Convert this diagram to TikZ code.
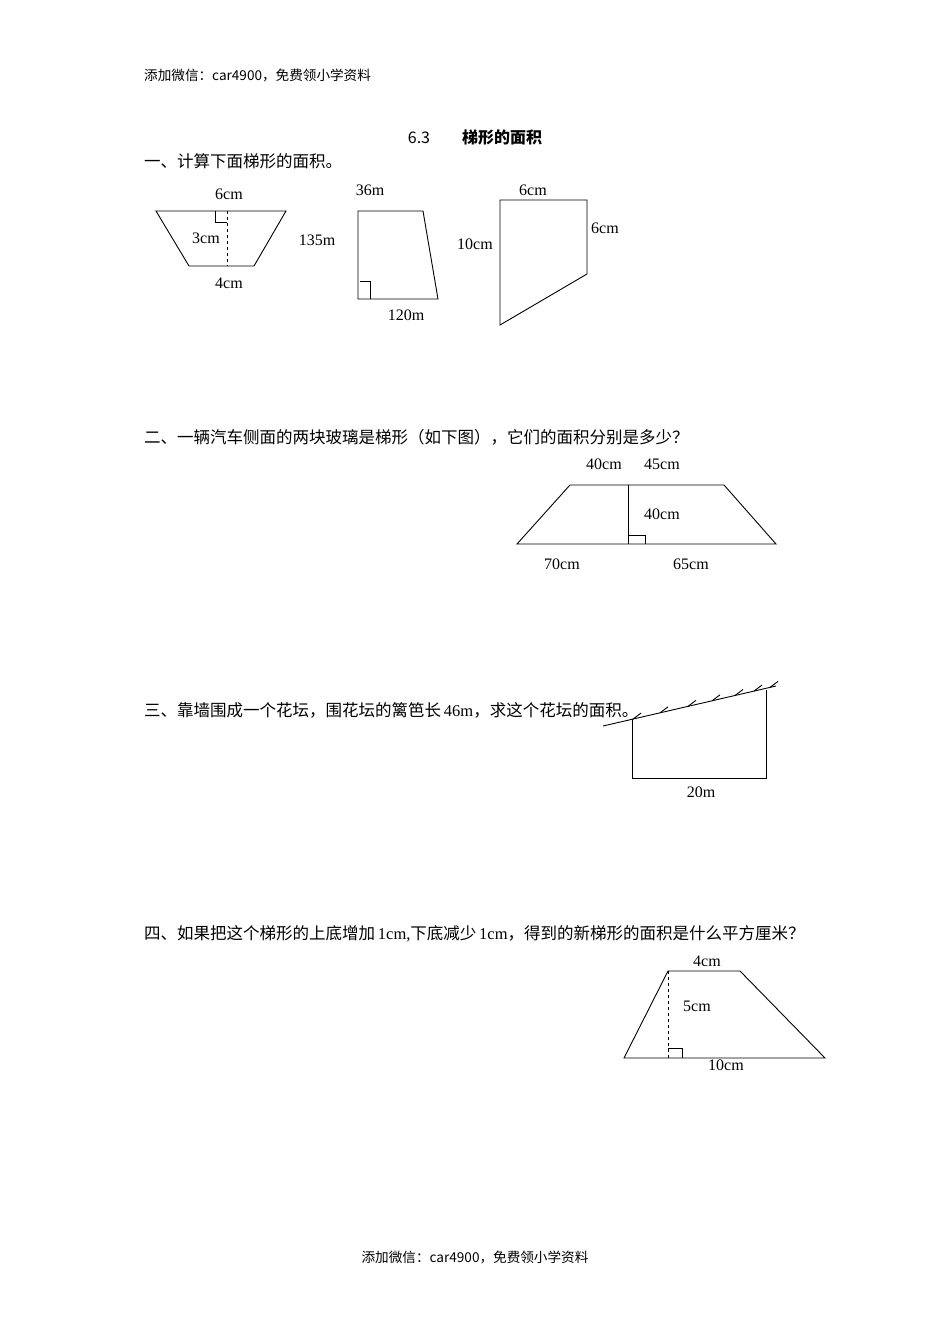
\documentclass[tikz,border=0pt]{standalone}
\usepackage{fontspec}
\setmainfont{Liberation Serif}
\newfontfamily\cjk{Noto Sans CJK SC}
\begin{document}
\begin{tikzpicture}[x=1pt,y=-1pt,
  shp/.style={line width=0.9pt},
  lbl/.style={font=\fontsize{16}{16}\selectfont,inner sep=0pt},
  q/.style={font=\cjk\fontsize{16.5}{16.5}\selectfont,anchor=west,inner sep=0pt},
  hd/.style={font=\cjk\fontsize{13.6}{13.6}\selectfont,inner sep=0pt}]
\useasboundingbox[fill=white] (0,0) rectangle (950,1344);
\node[hd,anchor=west] (h1) at (144,75) {添加微信：car4900，免费领小学资料};
\node[hd] (h2) at (475,1257) {添加微信：car4900，免费领小学资料};
\node[font=\cjk\fontsize{16}{16}\selectfont] (t) at (475,137) {6.3\hspace{2em}\textbf{梯形的面积}};
\node[q] (q1) at (144,161) {一、计算下面梯形的面积。};
% fig 1a
\draw[shp] (156,211)--(286,211)--(254,266)--(189,266)--cycle;
\draw[shp,dashed] (227,211)--(227,266);
\draw[shp] (215,211)--(215,222)--(227,222);
\node[lbl] (a1) at (229,194) {6cm};
\node[lbl] (a2) at (206,238) {3cm};
\node[lbl] (a3) at (229,283) {4cm};
% fig 1b
\draw[shp] (358,211)--(423,211)--(438,299)--(358,299)--cycle;
\draw[shp] (360,281)--(370,281)--(370,299);
\node[lbl] (b1) at (370,190) {36m};
\node[lbl] (b2) at (317,240) {135m};
\node[lbl] (b3) at (406,315) {120m};
% fig 1c
\draw[shp] (500,200)--(587,200)--(587,274)--(500,325)--cycle;
\node[lbl] (c1) at (533,190) {6cm};
\node[lbl] (c2) at (605,228) {6cm};
\node[lbl] (c3) at (475,244) {10cm};
% q2
\node[q] (q2) at (144,437) {二、一辆汽车侧面的两块玻璃是梯形（如下图），它们的面积分别是多少？};
\draw[shp] (517,544)--(776,544)--(724,485)--(570,485)--cycle;
\draw[shp] (628,485)--(628,544);
\draw[shp] (628,535)--(645,535)--(645,544);
\node[lbl] (d1) at (604,464) {40cm};
\node[lbl] (d2) at (662,464) {45cm};
\node[lbl] (d3) at (662,514) {40cm};
\node[lbl] (d4) at (562,564) {70cm};
\node[lbl] (d5) at (691,564) {65cm};
% q3
\node[q] (q3) at (144,710) {三、靠墙围成一个花坛，围花坛的篱笆长\,{\rmfamily 46m}，求这个花坛的面积。};
\draw[shp] (603,726)--(776,686);
\foreach \x in {633,660,688,712,735,754,770}
  \draw[shp] (\x,{726-(\x-603)*40/173}) -- ++(8,-6);
\draw[shp] (632,719)--(632,778)--(766,778)--(766,690);
\node[lbl] (e1) at (701,792) {20m};
% q4
\node[q] (q4) at (144,934) {四、如果把这个梯形的上底增加\,{\rmfamily 1cm,}下底减少\,{\rmfamily 1cm}，得到的新梯形的面积是什么平方厘米？};
\draw[shp] (624,1058)--(825,1058)--(740,971)--(668,971)--cycle;
\draw[shp,dashed] (668,971)--(668,1058);
\draw[shp] (668,1048)--(682,1048)--(682,1058);
\node[lbl] (f1) at (707,961) {4cm};
\node[lbl] (f2) at (697,1006) {5cm};
\node[lbl] (f3) at (726,1065) {10cm};
\end{tikzpicture}
\end{document}
